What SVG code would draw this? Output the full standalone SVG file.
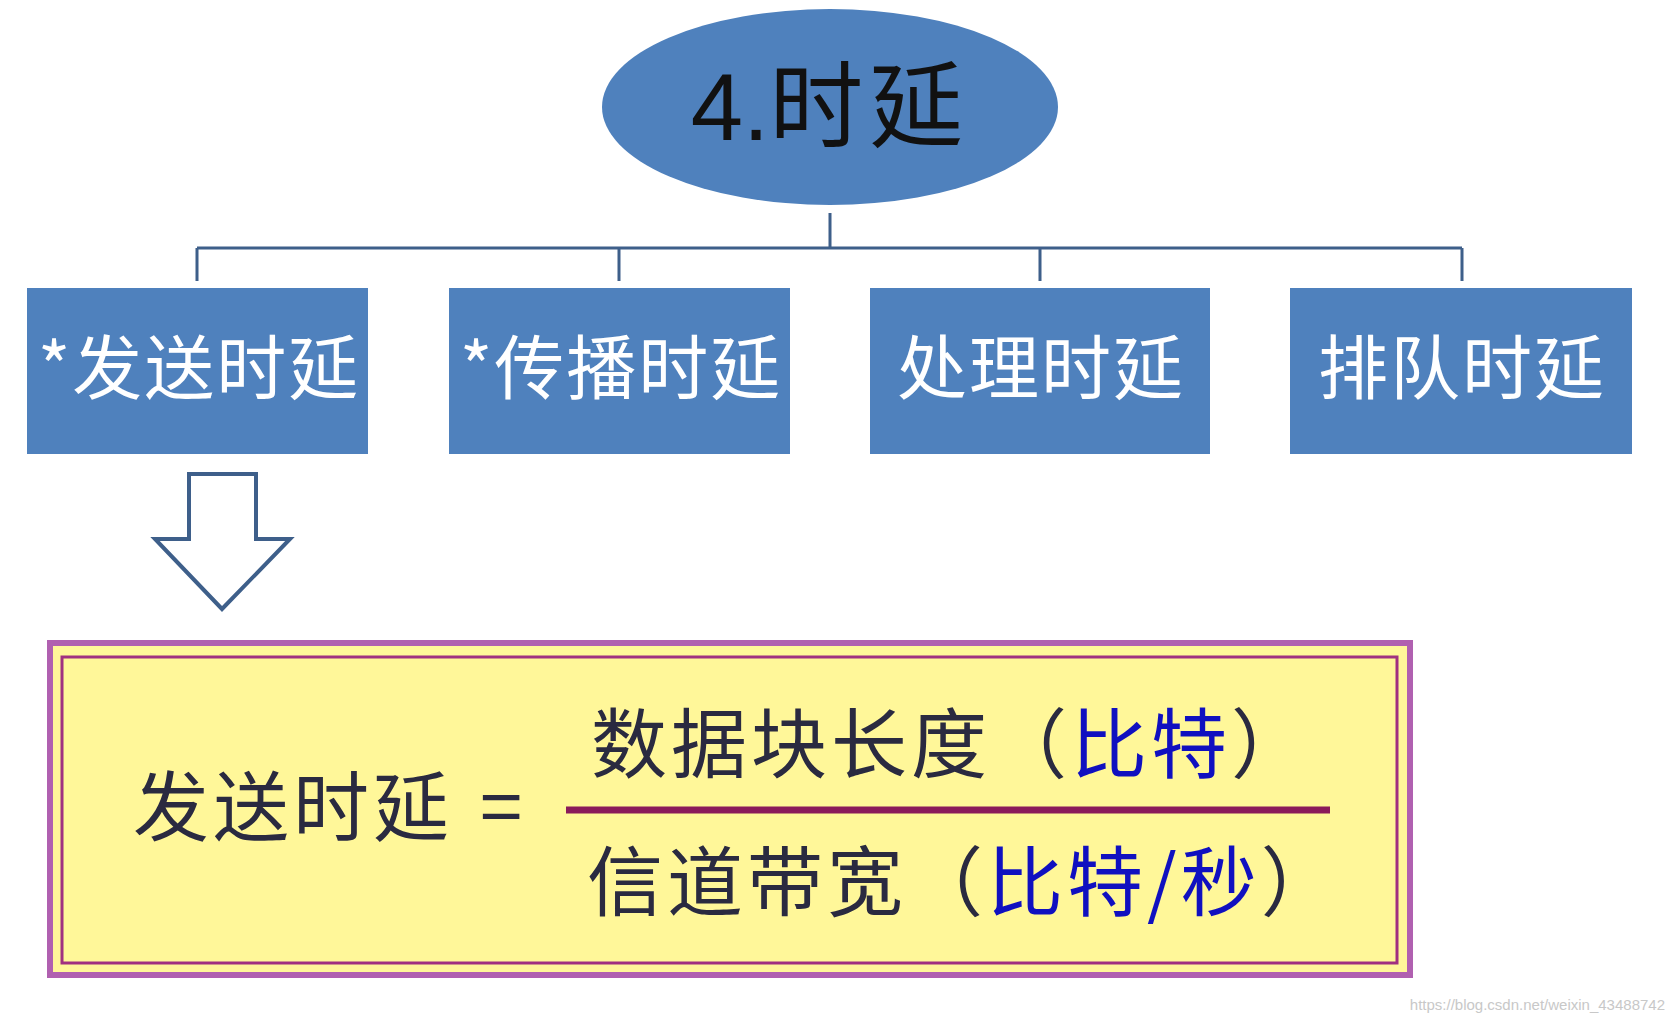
<svg xmlns="http://www.w3.org/2000/svg" width="1675" height="1022" viewBox="0 0 1675 1022">
<style>
.box{fill:#4f81bd;}
.bt{font-family:"Noto Sans CJK SC","Noto Sans",sans-serif;font-size:70px;fill:#ffffff;text-anchor:middle;letter-spacing:2px;}
.conn{stroke:#3e5f8a;stroke-width:3;fill:none;}
.f{font-family:"Noto Sans CJK SC",sans-serif;font-size:76px;fill:#2a2a40;letter-spacing:4px;}
.b{fill:#1010c0;}
</style>
<rect width="1675" height="1022" fill="#ffffff"/>
<g id="root">
<ellipse cx="830" cy="107" rx="228" ry="98" fill="#4f81bd"/>
<text x="830" y="140" font-family="Liberation Sans,Noto Sans CJK SC,sans-serif" font-size="94" fill="#111" text-anchor="middle">4.<tspan font-family="Noto Sans CJK SC,sans-serif" letter-spacing="6">时延</tspan></text>
</g>
<g id="connectors">
<path class="conn" d="M830 213V248M197 248H1462M197 248V281M619 248V281M1040 248V281M1462 248V281"/>
<path d="M189 474H256V539H290L222 609L155 539H189Z" fill="#ffffff" stroke="#3e5f8a" stroke-width="4"/>
</g>
<g id="n1"><rect class="box" x="27" y="288" width="341" height="166"/><text class="bt" x="199" y="394">*发送时延</text></g>
<g id="n2"><rect class="box" x="449" y="288" width="341" height="166"/><text class="bt" x="621" y="394">*传播时延</text></g>
<g id="n3"><rect class="box" x="870" y="288" width="340" height="166"/><text class="bt" x="1041" y="394">处理时延</text></g>
<g id="n4"><rect class="box" x="1290" y="288" width="342" height="166"/><text class="bt" x="1462" y="394">排队时延</text></g>
<g id="formula">
<rect x="50" y="643" width="1360" height="332" fill="#fff799" stroke="#b060b0" stroke-width="6"/>
<rect x="62" y="657" width="1335" height="306" fill="none" stroke="#a03080" stroke-width="3"/>
<text class="f" x="133" y="835">发送时延</text>
<text class="f" x="480" y="835">=</text>
<text class="f" x="591" y="772">数据块长度（<tspan class="b">比特</tspan>）</text>
<line x1="566" y1="810" x2="1330" y2="810" stroke="#8a1a5a" stroke-width="7"/>
<text class="f" x="587" y="910">信道带宽（<tspan class="b">比特/秒</tspan>）</text>
</g>
<text x="1665" y="1010" font-family="Liberation Sans,sans-serif" font-size="15" fill="#c8c8c8" text-anchor="end">https://blog.csdn.net/weixin_43488742</text>
</svg>
